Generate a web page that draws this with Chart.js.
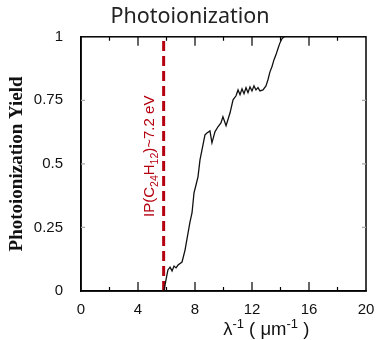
<!DOCTYPE html>
<html>
<head>
<meta charset="utf-8">
<script src="https://cdn.jsdelivr.net/npm/chart.js@4"></script>
<style>
  html, body { margin: 0; padding: 0; background: #fff; }
  #wrap { width: 378px; height: 340px; }
</style>
</head>
<body>
<div id="wrap"><canvas id="myChart" width="378" height="340"></canvas></div>
<script>
// inverse wavelength (um^-1) and photoionization yield
const waveNumber = [5.82, 5.96, 6.1, 6.25, 6.39, 6.53, 6.67, 6.81, 7.09, 7.3, 7.51, 7.65, 7.79, 7.93, 8.07, 8.21, 8.35, 8.56, 8.7, 8.84, 9.05, 9.19, 9.4, 9.61, 9.82, 9.96, 10.18, 10.46, 10.67, 10.88, 11.02, 11.16, 11.3, 11.44, 11.58, 11.72, 11.86, 12.0, 12.14, 12.28, 12.42, 12.56, 12.77, 12.98, 13.12, 13.26, 13.4, 13.54, 13.68, 13.82, 13.96, 14.1, 14.25];
const yieldValues = [0, 0.043, 0.083, 0.094, 0.079, 0.098, 0.091, 0.102, 0.114, 0.161, 0.228, 0.272, 0.307, 0.386, 0.417, 0.449, 0.516, 0.575, 0.614, 0.622, 0.63, 0.583, 0.626, 0.646, 0.661, 0.685, 0.65, 0.701, 0.752, 0.768, 0.791, 0.772, 0.795, 0.776, 0.8, 0.78, 0.803, 0.787, 0.807, 0.791, 0.8, 0.787, 0.791, 0.807, 0.831, 0.862, 0.882, 0.909, 0.929, 0.953, 0.976, 0.992, 1.0];
// ionization potential marker
const ipPosition = [5.8, 5.8];
const ipRange = [0, 1];
// label pieces: [text, subscript?]
const ipLabel = [['IP(C', false], ['24', true], ['H', false], ['12', true], [')~7.2 eV', false]];
const xTicks = [0, 4, 8, 12, 16, 20];
const yTicks = [0, 0.25, 0.5, 0.75, 1];
// x title pieces: [text, superscript?]
const xTitle = [['\u03bb', false], ['-1', true], [' ( \u03bcm', false], ['-1', true], [' )', false]];

const curve = waveNumber.map((x, i) => ({x: x, y: yieldValues[i]}));
const ipLine = ipPosition.map((x, i) => ({x: x, y: ipRange[i]}));

function drawPieces(ctx, pieces, x, y, size, small, shift) {
  const fam = '"Liberation Sans", Arial, sans-serif';
  let total = 0;
  pieces.forEach(p => {
    ctx.font = (p[1] ? small : size) + 'px ' + fam;
    total += ctx.measureText(p[0]).width;
  });
  let cx = x - total / 2;
  pieces.forEach(p => {
    ctx.font = (p[1] ? small : size) + 'px ' + fam;
    ctx.fillText(p[0], cx, p[1] ? y + shift : y);
    cx += ctx.measureText(p[0]).width;
  });
}

// frame, inward ticks, the rotated IP label and the x title
const framePlugin = {
  id: 'frame',
  afterDraw(chart) {
    const ctx = chart.ctx;
    const a = chart.chartArea;
    const xs = chart.scales.x, ys = chart.scales.y;
    ctx.save();
    ctx.strokeStyle = '#000';
    ctx.lineWidth = 1.5;
    ctx.strokeRect(a.left, a.top, a.right - a.left, a.bottom - a.top);
    ctx.lineWidth = 1.2;
    xs.ticks.forEach(t => {
      if (t.value <= 0 || t.value >= 20) return;
      const px = xs.getPixelForValue(t.value);
      const len = t.value % 4 === 0 ? 9 : 4;
      ctx.beginPath();
      ctx.moveTo(px, a.bottom); ctx.lineTo(px, a.bottom - len);
      ctx.moveTo(px, a.top); ctx.lineTo(px, a.top + len);
      ctx.stroke();
    });
    ctx.strokeStyle = '#aaa';
    ys.ticks.forEach(t => {
      if (t.value <= 0 || t.value >= 1) return;
      const py = ys.getPixelForValue(t.value);
      ctx.beginPath();
      ctx.moveTo(a.left, py); ctx.lineTo(a.left + 4, py);
      ctx.moveTo(a.right, py); ctx.lineTo(a.right - 4, py);
      ctx.stroke();
    });
    ctx.textAlign = 'left';
    ctx.textBaseline = 'middle';
    // x axis title
    ctx.fillStyle = '#111';
    drawPieces(ctx, xTitle, xs.getPixelForValue(13.0), 330, 18.5, 13, -6);
    // label beside the dashed line
    const lx = xs.getPixelForValue(ipPosition[0]) - 14;
    const ly = ys.getPixelForValue(0.53);
    ctx.translate(lx, ly);
    ctx.rotate(-Math.PI / 2);
    ctx.fillStyle = '#b5000f';
    drawPieces(ctx, ipLabel, 0, 0, 15, 10.5, 5);
    ctx.restore();
  }
};

const ctx = document.getElementById('myChart').getContext('2d');
const chart = new Chart(ctx, {
  type: 'line',
  data: {
    datasets: [{
      label: 'yield',
      data: curve,
      borderColor: '#111',
      borderWidth: 1.3,
      pointRadius: 0,
      tension: 0
    }, {
      label: 'IP',
      data: ipLine,
      borderColor: '#b5000f',
      borderWidth: 3,
      borderDash: [10, 5],
      pointRadius: 0
    }]
  },
  options: {
    responsive: false,
    animation: false,
    layout: {padding: {left: 2, right: 0, top: 0, bottom: 22}},
    plugins: {
      legend: {display: false},
      tooltip: {enabled: false},
      title: {
        display: true,
        text: 'Photoionization',
        color: '#222',
        font: {family: '"Noto Sans", sans-serif', size: 21.5, weight: 'normal'},
        padding: {top: 4, bottom: 7}
      }
    },
    scales: {
      x: {
        type: 'linear',
        min: 0, max: 20,
        afterBuildTicks: s => { s.ticks = [0,2,4,6,8,10,12,14,16,18,20].map(v => ({value: v})); },
        afterFit: s => { s.height = 27; s.paddingRight = 12; s.paddingLeft = 0; },
        grid: {display: false, drawTicks: false},
        border: {display: true, color: '#000', width: 1.5},
        ticks: {
          padding: 10,
          color: '#111',
          font: {family: '"Liberation Sans", Arial, sans-serif', size: 15},
          callback: v => xTicks.includes(v) ? String(v) : ''
        }
      },
      y: {
        type: 'linear',
        min: 0, max: 1,
        afterBuildTicks: s => { s.ticks = yTicks.map(v => ({value: v})); },
        afterFit: s => { s.width = 79; },
        grid: {display: false, drawTicks: false},
        border: {display: true, color: '#000', width: 1.5},
        ticks: {
          padding: 18,
          color: '#111',
          font: {family: '"Liberation Sans", Arial, sans-serif', size: 15},
          callback: v => String(v)
        },
        title: {
          display: true,
          text: 'Photoionization Yield',
          color: '#111',
          font: {family: '"Liberation Serif", "Times New Roman", serif', size: 19, weight: 'bold'},
          padding: {top: 4, bottom: 4}
        }
      }
    }
  },
  plugins: [framePlugin]
});
</script>
</body>
</html>
